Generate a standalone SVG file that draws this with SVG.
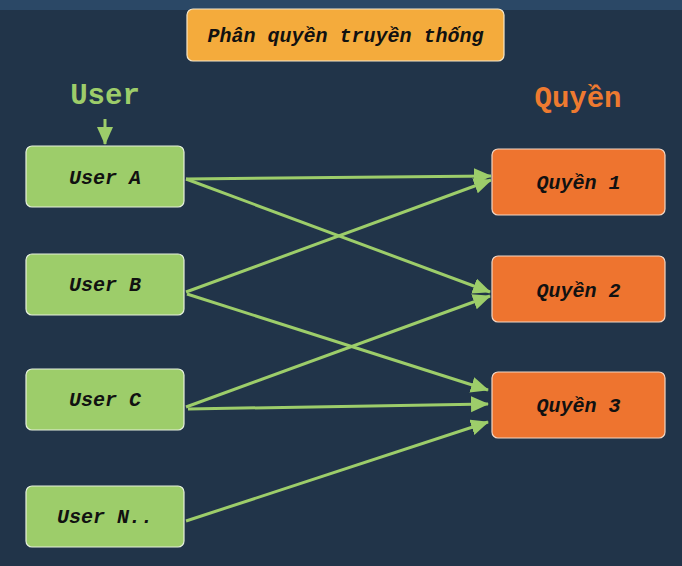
<svg xmlns="http://www.w3.org/2000/svg" width="682" height="566" viewBox="0 0 682 566">
<defs>
<style>
.bg{fill:#213449}
.user rect{fill:#9dcd6a;stroke:#e6f0dc;stroke-width:1.2}
.perm rect{fill:#ee742f;stroke:#f3d6c4;stroke-width:1.2}
.lbl{font-family:"Liberation Mono","DejaVu Sans Mono",monospace;font-weight:bold;font-style:italic;font-size:20px;fill:#111;text-anchor:middle}
.hdr{font-family:"Liberation Mono","DejaVu Sans Mono",monospace;font-weight:bold;font-size:29px;text-anchor:middle}
.conn line{stroke:#9dcd6a;stroke-width:3;marker-end:url(#ah)}
</style>
<marker id="ah" markerUnits="userSpaceOnUse" markerWidth="20" markerHeight="18" refX="17" refY="8" orient="auto">
<path d="M0,0 L18,8 L0,16 Z" fill="#9dcd6a"/>
</marker>
</defs>
<rect class="bg" x="0" y="0" width="682" height="566"/>
<rect x="0" y="0" width="682" height="10" fill="#2b4866"/>
<g id="title">
<rect x="187" y="9" width="317" height="52" rx="6" fill="#f4ab3c" stroke="#f6e6c8" stroke-width="1.2"/>
<text class="lbl" x="345.5" y="42">Phân quyền truyền thống</text>
</g>
<g id="hdr-user">
<text class="hdr" x="105" y="104" fill="#9dcd6a">User</text>
</g>
<g id="hdr-quyen">
<text class="hdr" x="578" y="107" fill="#ee7a30">Quyền</text>
</g>
<g id="userA" class="user"><rect x="26" y="146" width="158" height="61" rx="6"/><text class="lbl" x="105" y="184">User A</text></g>
<g id="userB" class="user"><rect x="26" y="254" width="158" height="61" rx="6"/><text class="lbl" x="105" y="291">User B</text></g>
<g id="userC" class="user"><rect x="26" y="369" width="158" height="61" rx="6"/><text class="lbl" x="105" y="406">User C</text></g>
<g id="userN" class="user"><rect x="26" y="486" width="158" height="61" rx="6"/><text class="lbl" x="105" y="523">User N..</text></g>
<g id="q1" class="perm"><rect x="492" y="149" width="173" height="66" rx="6"/><text class="lbl" x="578.5" y="189">Quyền 1</text></g>
<g id="q2" class="perm"><rect x="492" y="256" width="173" height="66" rx="6"/><text class="lbl" x="578.5" y="297">Quyền 2</text></g>
<g id="q3" class="perm"><rect x="492" y="372" width="173" height="66" rx="6"/><text class="lbl" x="578.5" y="412">Quyền 3</text></g>
<g id="connectors" class="conn">
<line x1="105" y1="119" x2="105" y2="144"/>
<line x1="186" y1="179" x2="491" y2="176"/>
<line x1="186" y1="179" x2="490" y2="292"/>
<line x1="186" y1="292" x2="491" y2="180"/>
<line x1="187" y1="294" x2="488" y2="390"/>
<line x1="186" y1="407" x2="490" y2="296"/>
<line x1="188" y1="409" x2="488" y2="404"/>
<line x1="186" y1="521" x2="488" y2="422"/>
</g>
</svg>
